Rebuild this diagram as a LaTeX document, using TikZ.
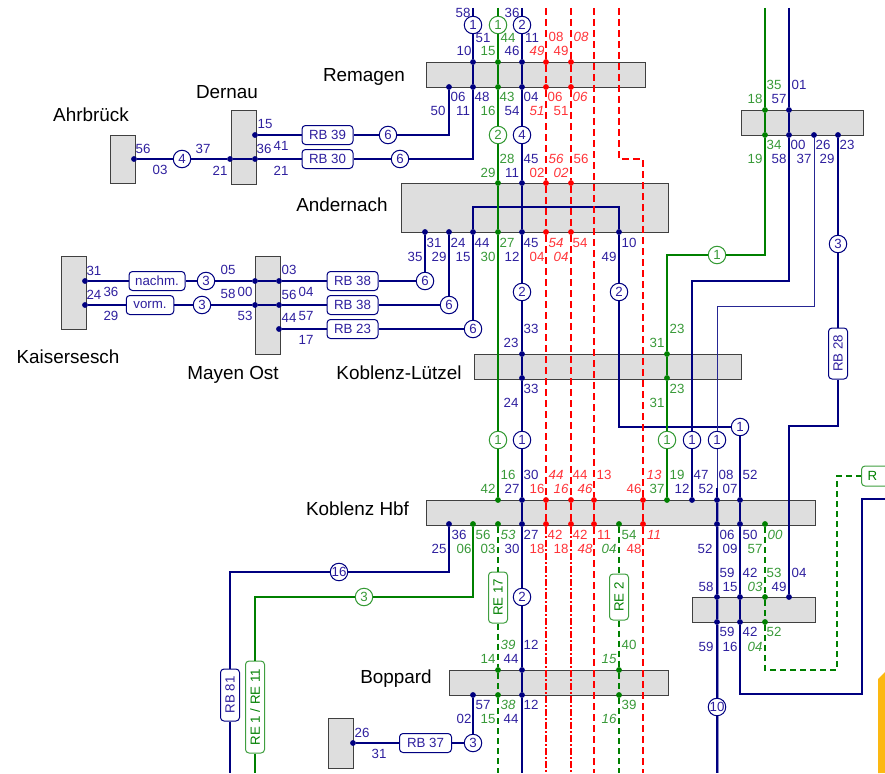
\documentclass[tikz,border=0pt]{standalone}
\usepackage{fontspec}
\setmainfont{Liberation Sans}
\definecolor{linenavy}{rgb}{0,0,0.50}
\definecolor{linegreen}{rgb}{0,0.50,0}
\definecolor{linered}{rgb}{1,0,0}
\definecolor{labnavy}{rgb}{0.18,0.12,0.62}
\definecolor{labgreen}{rgb}{0.22,0.60,0.22}
\definecolor{labred}{rgb}{1,0.20,0.22}
\definecolor{boxgray}{rgb}{0.87,0.87,0.87}
\definecolor{cornerorange}{rgb}{0.99,0.72,0.07}

\begin{document}
\begin{tikzpicture}[x=1pt,y=-1pt,
    stn/.style={draw=black!75,line width=1pt,fill=boxgray,anchor=north west,inner sep=0pt},
    stname/.style={font=\fontsize{18.9}{20}\selectfont,text=black},
    lab/.style={font=\fontsize{13.3}{14}\selectfont,inner sep=0pt},
    labi/.style={font=\fontsize{13.3}{14}\selectfont\itshape,inner sep=0pt},
    dot/.style={circle,fill,inner sep=0pt,minimum size=5.8pt},
    ring/.style={circle,draw,fill=white,line width=1pt,inner sep=0pt,minimum size=17.5pt,font=\fontsize{13.3}{14}\selectfont},
    pill/.style={draw,fill=white,line width=1pt,rounded corners=3.5pt,inner sep=0pt,minimum height=19pt,font=\fontsize{13.3}{14}\selectfont},
    bline/.style={linenavy,line width=2.2pt},
    bthin/.style={linenavy!85,line width=1pt},
    bdbl/.style={linenavy,line width=1.1pt,preaction={draw,linenavy!45,line width=3pt}},
    gline/.style={linegreen,line width=2.2pt},
    gdash/.style={linegreen,line width=2.2pt,dash pattern=on 6pt off 4pt},
    rdash/.style={linered,line width=2.2pt,dash pattern=on 7pt off 4pt},
    rdots/.style={linered,line width=2.2pt,dash pattern=on 7pt off 2pt on 2pt off 2pt}]
    \useasboundingbox (0,0) rectangle (885,773);
    \clip (0,0) rectangle (885,773);
    \foreach \n/\x/\y/\w/\h in {ahrbrueck/109.5/135/25/48,dernau/230.5/110.5/25/73,remagen/425.5/62/219/25,
        andernach/401/183/267/49,kaisersesch/61/256/24.5/73,mayen/255/256/24.5/98,luetzel/473.5/354/267.5/24.5,
        hbf/425.5/499.5/389/25,nordost/740.5/110.5/122/24.5,suedost/692/597/122.5/25,boppard/449/670/219/25,
        bopparddorf/328/718/25/50}
        \node[stn,minimum width=\w pt,minimum height=\h pt] (\n) at (\x,\y) {};
    \fill[cornerorange] (878,679) -- (885,672) -- (885,773) -- (878,773) -- cycle;

    \node[stname] (tahrbrueck) at (91,115) {Ahrbrück};
    \node[stname] (tdernau) at (227,92) {Dernau};
    \node[stname] (tremagen) at (364,77) {Remagen};
    \node[stname] (tandernach) at (342,205) {Andernach};
    \node[stname] (tkaisersesch) at (68,357) {Kaisersesch};
    \node[stname] (tmayen) at (233,375) {Mayen Ost};
    \node[stname] (tluetzel) at (399,373) {Koblenz-Lützel};
    \node[stname] (thbf) at (357.5,509) {Koblenz Hbf};
    \node[stname] (tboppard) at (396,679) {Boppard};

    \foreach \p/\x/\y in {rt/473/62,rt/522/62,rb/449/87,rb/473/87,rb/522/87,at/522/183,ab/425/232,ab/449/232,ab/473/232,ab/522/232,ab/619/232,
        lt/522/354,lb/522/378,kt/522/500,kt/692/500,kt/717/500,kt/740/500,kb/449/524,kb/522/524,kb/717/524,kb/740/524,
        st/717/597,st/740/597,st/789/597,sb/717/622,sb/740/622,ft/789/110,fb/789/135,fb/814/135,fb/838/135,
        bt/522/670,bb/473/695,bb/522/695,ah/134/159,de/230/159,de/255/159,de/255/135,ka/85/281,ka/85/305,
        ma/255/281,ma/279/281,ma/255/305,ma/279/305,ma/279/329,do/353/743}
        \node[dot,linenavy] (\p\x-\y) at (\x,\y) {};
    \foreach \p/\x/\y in {rt/498/62,rb/498/87,at/498/183,ab/498/232,lt/667/354,lb/667/378,kt/498/500,kt/667/500,kb/473/524,kb/498/524,kb/619/524,kb/765/524,
        st/765/597,sb/765/622,ft/765/110,fb/765/135,bt/498/670,bt/619/670,bb/498/695,bb/619/695}
        \node[dot,linegreen] (\p\x-\y) at (\x,\y) {};
    \foreach \p/\x/\y in {rt/546/62,rt/571/62,rb/546/87,rb/571/87,at/546/183,at/571/183,ab/546/232,ab/571/232,
        kt/546/500,kt/571/500,kt/594/500,kt/643/500,kb/546/524,kb/571/524,kb/594/524,kb/643/524}
        \node[dot,linered] (\p\x-\y) at (\x,\y) {};

    \foreach \n/\x/\y/\t in {r473/473/25/1,r522/522/25/2,r388/388/135/6,r400/400/159/6,r182/182/159/4,r522b/522/135/4,
        r425/425/281/6,r449/449/305/6,r473b/473/329/6,r522c/522/292/2,r619/619/292/2,r522d/522/440/1,r206/206/281/3,r202/202/305/3,
        r692/692/440/1,r717/717/440/1,r740/740/427/1,r837/838/244/3,r339/339/572/16,r522e/522/597/2,r717b/717/707/10,r473c/473/743/3}
        \node[ring,draw=linenavy,text=labnavy] (\n) at (\x,\y) {\t};
    \foreach \n/\x/\y/\t in {g498/498/25/1,g498b/498/135/2,g498c/498/440/1,g667/667/440/1,g717/717/255/1,g364/364/597/3}
        \node[ring,draw=linegreen!80,text=labgreen] (\n) at (\x,\y) {\t};

    \foreach \n/\x/\y/\w/\t in {rb39/327.5/135/51/RB 39,rb30/327.5/159/51/RB 30,nachm/157/281/56/nachm.,vorm/150/305/47.5/vorm.,
        rb38a/352.5/281/51/RB 38,rb38b/352.5/305/51/RB 38,rb23/352.5/329/51/RB 23,rb37/425.5/743/52/RB 37}
        \node[pill,draw=linenavy,text=labnavy,minimum width=\w pt] (\n) at (\x,\y) {\t};
    \foreach \n/\x/\y/\w/\t in {rb28/838/353.5/51/RB 28,rb81/230/695/52/RB 81}
        \node[pill,rotate=90,draw=linenavy,text=labnavy,minimum width=\w pt] (\n) at (\x,\y) {\t};
    \foreach \n/\x/\y/\w/\t in {re17/498/597.5/51/RE 17,re2/619/597/46/RE 2}
        \node[pill,rotate=90,draw=linegreen!75,text=linegreen,minimum width=\w pt] (\n) at (\x,\y) {\t};
    \node[pill,rotate=90,draw=linegreen!75,text=linegreen,minimum width=92pt] (re1) at (255,707) {RE 1 / RE 11};
    \node[pill,draw=linegreen!75,text=linegreen,anchor=west,minimum height=20pt,text width=54pt,inner xsep=6pt,align=left] (rex) at (861,476) {R};

    \foreach \x in {473,498,522,546,571,594,619,765,789}
        \coordinate (top\x) at (\x,8);
    \foreach \x in {230,255,498,522,546,571,594,619,643,717}
        \coordinate (bot\x) at (\x,773);
    \coordinate (a1) at (473,207); \coordinate (a2) at (619,207);
    \coordinate (b1) at (619,427); \coordinate (b2) at (740,694); \coordinate (b3) at (862,694);
    \coordinate (b4) at (862,499); \coordinate (b5) at (885,499);
    \coordinate (c1) at (789,281); \coordinate (c2) at (692,281);
    \coordinate (d1) at (814,306); \coordinate (d2) at (717,306); \coordinate (d3) at (717,488);
    \coordinate (e1) at (838,426); \coordinate (e2) at (789,426);
    \coordinate (f1) at (765,255); \coordinate (f2) at (667,255);
    \coordinate (g1) at (765,670); \coordinate (g2) at (837,670); \coordinate (g3) at (837,476);
    \coordinate (h1) at (473,597); \coordinate (h2) at (255,597);
    \coordinate (i1) at (449,572); \coordinate (i2) at (230,572);
    \coordinate (j1) at (619,159); \coordinate (j2) at (643,159);

    \draw[bline] (top473) -- (r473) -- (rt473-62) -- (rb473-87) |- (r400) -- (rb30) -- (de255-159) -- (de230-159) -- (r182) -- (ah134-159);
    \draw[bline] (rb449-87) |- (r388) -- (rb39) -- (de255-135);
    \draw[bline] (ab425-232) -- (r425) -- (rb38a) -- (ma279-281) -- (ma255-281) -- (r206) -- (nachm) -- (ka85-281);
    \draw[bline] (ab449-232) -- (r449) -- (rb38b) -- (ma279-305) -- (ma255-305) -- (r202) -- (vorm) -- (ka85-305);
    \draw[bline] (ab473-232) -- (r473b) -- (rb23) -- (ma279-329);
    \draw[bline] (top522) -- (r522) -- (rt522-62) -- (rb522-87) -- (r522b) -- (at522-183) -- (ab522-232) -- (r522c) -- (lt522-354) -- (lb522-378) -- (r522d) -- (kt522-500) -- (kb522-524) -- (r522e) -- (bt522-670) -- (bb522-695) -- (bot522);
    \draw[bline] (ab473-232) -- (a1) -- (a2) -- (ab619-232) -- (r619) -- (b1) -- (r740) -- (kt740-500) -- (kb740-524) -- (st740-597) -- (sb740-622) -- (b2) -- (b3) -- (b4) -- (b5);
    \draw[bline] (top789) -- (ft789-110) -- (fb789-135) -- (c1) -- (c2) -- (r692) -- (kt692-500);
    \draw[bthin] (fb814-135) -- (d1) -- (d2) -- (r717) -- (d3);
    \draw[bline] (d3) -- (kt717-500);
    \draw[bdbl] (kt717-500) -- (kb717-524) -- (st717-597) -- (sb717-622) -- (r717b) -- (bot717);
    \draw[bline] (fb838-135) -- (r837) -- (rb28) -- (e1) -- (e2) -- (st789-597);
    \draw[bline] (kb449-524) -- (i1) -- (r339) -- (i2) -- (rb81) -- (bot230);
    \draw[bline] (bb473-695) -- (r473c) -- (rb37) -- (do353-743);

    \draw[gline] (top498) -- (g498) -- (rt498-62) -- (rb498-87) -- (g498b) -- (at498-183) -- (ab498-232) -- (g498c) -- (kt498-500);
    \draw[gline] (top765) -- (ft765-110) -- (fb765-135) -- (f1) -- (g717) -- (f2) -- (lt667-354) -- (lb667-378) -- (g667) -- (kt667-500);
    \draw[gline] (kb473-524) -- (h1) -- (g364) -- (h2) -- (re1) -- (bot255);
    \draw[gdash] (kb498-524) -- (re17) -- (bt498-670) -- (bb498-695) -- (bot498);
    \draw[gdash] (kb619-524) -- (re2) -- (bt619-670) -- (bb619-695) -- (bot619);
    \draw[gdash] (kb765-524) -- (st765-597) -- (sb765-622) -- (g1) -- (g2) -- (g3) -- (rex);

    \draw[rdash] (top546) -- (rt546-62) -- (rb546-87) -- (at546-183) -- (ab546-232) -- (kt546-500) -- (kb546-524);
    \draw[rdash] (top571) -- (rt571-62) -- (rb571-87) -- (at571-183) -- (ab571-232) -- (kt571-500) -- (kb571-524);
    \draw[rdots] (kb546-524) -- (bot546);
    \draw[rdots] (kb571-524) -- (bot571);
    \draw[rdash] (top594) -- (kt594-500) -- (kb594-524) -- (bot594);
    \draw[rdash] (top619) -- (j1) -- (j2) -- (kt643-500) -- (kb643-524) -- (bot643);

    \foreach \t/\x/\y [count=\i] in {56/143/149,03/160/170,37/203/149,21/220/171,15/265/124,36/264/149,41/281/146,21/281/171,
        58/463/13,36/512/13,51/483/38,11/532/38,10/464/51,46/512/51,06/458/97,48/482/97,04/531/97,50/438/111,11/463/111,54/512/111,
        45/531/159,11/512/173,31/434/243,24/458/243,44/482/243,45/531/243,10/629/243,35/415/257,29/439/257,15/463/257,12/512/257,49/609/257,
        33/531/329,23/511/343,33/531/389,24/511/403,01/799/85,57/779/99,00/798/145,26/823/145,23/847/145,58/779/159,37/804/159,29/827/159,
        31/94/271,36/111/292,24/94/295,29/111/316,05/228/270,58/228/294,00/245/292,53/245/316,03/289/270,04/306/292,56/289/295,57/306/316,44/289/318,17/306/340,
        30/531/475,47/701/475,08/726/475,52/750/475,27/512/489,12/682/489,52/706/489,07/730/489,36/459/535,27/531/535,25/439/549,30/512/549,
        06/727/535,50/750/535,52/705/549,09/730/549,59/727/573,42/750/573,04/799/573,58/706/587,15/730/587,49/779/587,59/727/632,42/750/632,59/706/647,16/730/647,
        12/531/645,44/511/659,57/483/705,12/531/705,02/464/719,44/511/719,26/362/733,31/379/754}
        \node[lab,text=labnavy] (nb\i) at (\x,\y) {\t};
    \foreach \t/\x/\y [count=\i] in {44/508/38,15/488/51,43/507/97,16/488/111,28/507/159,29/488/173,27/507/243,30/488/257,
        35/774/85,18/755/99,34/774/145,19/755/159,23/677/329,31/657/343,23/677/389,31/657/403,16/508/475,19/677/475,42/488/489,37/657/489,
        56/483/535,54/629/535,06/464/549,03/488/549,57/755/549,53/774/573,52/774/632,14/488/659,40/629/645,39/629/705,15/488/719}
        \node[lab,text=labgreen] (ng\i) at (\x,\y) {\t};
    \foreach \t/\x/\y [count=\i] in {53/508/535,04/609/549,00/775/535,03/755/587,04/755/647,39/508/645,15/609/659,38/508/705,16/609/719}
        \node[labi,text=labgreen] (ngi\i) at (\x,\y) {\t};
    \foreach \t/\x/\y [count=\i] in {08/556/37,49/561/51,06/555/97,51/561/111,56/581/159,02/537/173,54/580/243,04/537/257,
        44/580/475,13/604/475,16/537/489,46/634/489,42/555/535,42/580/535,11/604/535,18/537/549,18/561/549,48/634/549}
        \node[lab,text=labred] (nr\i) at (\x,\y) {\t};
    \foreach \t/\x/\y [count=\i] in {08/581/37,49/537/51,06/580/97,51/537/111,56/556/159,02/561/173,54/556/243,04/561/257,
        44/556/475,13/654/475,16/561/489,46/585/489,11/654/535,48/585/549}
        \node[labi,text=labred] (nri\i) at (\x,\y) {\t};
  \end{tikzpicture}
\end{document}
